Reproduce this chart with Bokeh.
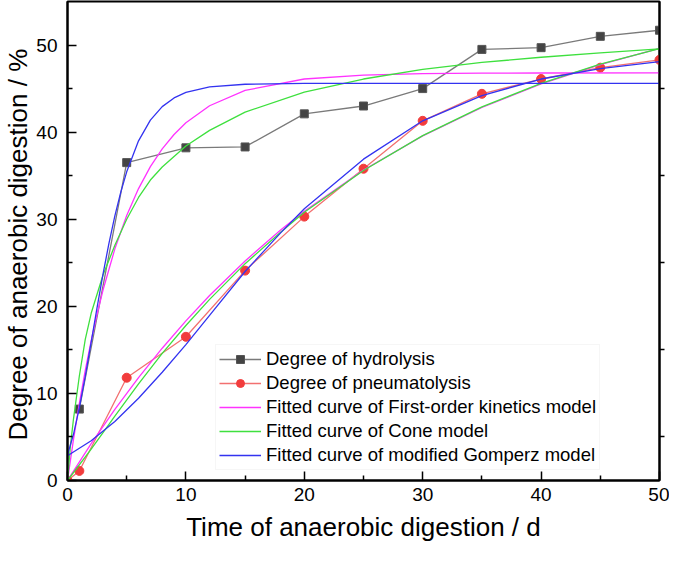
from bokeh.plotting import figure
from bokeh.models import Range1d, LinearAxis, FixedTicker, Legend, LegendItem
from bokeh.embed import file_html
from bokeh.resources import INLINE

# ---- measured data ----
days = [1, 5, 10, 15, 20, 25, 30, 35, 40, 45, 50]
hydrolysis = [8.2, 36.5, 38.2, 38.3, 42.1, 43.0, 45.0, 49.5, 49.7, 51.0, 51.7]
pneu_days = [0, 1, 5, 10, 15, 20, 25, 30, 35, 40, 45, 50]
pneumatolysis = [0.0, 1.1, 11.8, 16.5, 24.1, 30.3, 35.8, 41.3, 44.4, 46.1, 47.4, 48.3]

# ---- fitted curves ----
fo_h_t = [0, 0.5, 1, 1.5, 2, 2.5, 3, 4, 5, 6, 7, 8, 9, 10, 12, 15, 20, 25, 30, 35, 40, 50]
fo_h_y = [0, 4.67, 8.86, 12.65, 16.05, 19.11, 21.87, 26.60, 30.42, 33.52, 36.04, 38.08,
          39.73, 41.07, 43.03, 44.79, 46.10, 46.55, 46.71, 46.77, 46.79, 46.80]

cone_h_t = [0, 0.25, 0.5, 1, 1.5, 2, 3, 4, 5, 6, 7, 8, 10, 12, 15, 20, 25, 30, 35, 40, 45, 50]
cone_h_y = [0, 4.0, 7.0, 12.0, 16.2, 19.2, 23.6, 27.0, 30.0, 32.5, 34.5, 36.0, 38.4, 40.2,
            42.3, 44.6, 46.1, 47.2, 48.0, 48.6, 49.1, 49.55]

gom_h_t = [0, 0.5, 1, 1.5, 2, 2.5, 3, 3.5, 4, 4.5, 5, 6, 7, 8, 9, 10, 12, 15, 20, 30, 50]
gom_h_y = [2.95, 5.28, 8.34, 11.96, 15.89, 19.87, 23.70, 27.23, 30.38, 33.11, 35.44, 39.00,
           41.38, 42.93, 43.93, 44.56, 45.19, 45.50, 45.59, 45.60, 45.60]

fit_p_t = [0, 2, 4, 6, 8, 10, 12, 15, 18, 20, 25, 30, 35, 40, 45, 50]
fo_p_y = [0, 4.23, 8.16, 11.81, 15.19, 18.33, 21.24, 25.21, 28.76, 30.92, 35.65, 39.57,
          42.83, 45.53, 47.76, 49.61]
cone_p_y = [0, 3.6, 7.4, 11.1, 14.6, 17.8, 20.8, 24.9, 28.5, 30.8, 35.6, 39.6, 42.9, 45.6,
            47.8, 49.6]
gom_p_y = [2.85, 4.57, 6.78, 9.44, 12.43, 15.6, 18.97, 24.0, 28.43, 31.2, 36.9, 41.3, 44.2,
           46.1, 47.3, 48.1]

x_ticks = [0, 10, 20, 30, 40, 50]
x_minor = [5, 15, 25, 35, 45]
y_ticks = [0, 10, 20, 30, 40, 50]
y_minor = [5, 15, 25, 35, 45]

FONT = "Liberation Sans"
MAGENTA = "#ff33ff"
GREEN = "#3ee03e"
BLUE = "#3333f0"

p = figure(width=669, height=547, output_backend="svg", toolbar_location=None,
           x_range=Range1d(0, 50), y_range=Range1d(0, 55),
           min_border_left=62, min_border_right=10, min_border_top=1, min_border_bottom=67)
p.grid.visible = False
p.outline_line_color = "black"
p.outline_line_width = 2
p.background_fill_color = "white"

for ax, ticks, minor in ((p.xaxis[0], x_ticks, x_minor), (p.yaxis[0], y_ticks, y_minor)):
    ax.ticker = FixedTicker(ticks=ticks, minor_ticks=minor)
    ax.major_tick_out = 0
    ax.minor_tick_out = 0
    ax.major_tick_in = 9
    ax.minor_tick_in = 5
    ax.major_tick_line_width = 1.5
    ax.minor_tick_line_width = 1.5
    ax.axis_line_width = 2
    ax.major_label_text_font = FONT
    ax.major_label_text_font_size = "19px"
    ax.major_label_text_color = "black"
    ax.axis_label_text_font = FONT
    ax.axis_label_text_font_size = "26px"
    ax.axis_label_text_font_style = "normal"
    ax.axis_label_text_color = "black"

p.xaxis[0].axis_label = "Time of anaerobic digestion / d"
p.xaxis[0].major_label_standoff = 7
p.xaxis[0].axis_label_standoff = 8
p.yaxis[0].axis_label = "Degree of  anaerobic digestion / %"
p.yaxis[0].major_label_standoff = 10
p.yaxis[0].axis_label_standoff = 0

right = LinearAxis(ticker=FixedTicker(ticks=y_minor, minor_ticks=[]),
                   major_tick_in=0, major_tick_out=5, major_tick_line_width=1.5,
                   axis_line_width=2, major_label_text_font_size="1px",
                   major_label_text_color=None,
                   major_label_standoff=0, minor_tick_line_color=None)
p.add_layout(right, "right")

# data series
h_line = p.line(days, hydrolysis, line_color="#7a7a7a", line_width=1.3)
h_mark = p.scatter(days, hydrolysis, marker="square", size=8,
                   fill_color="#444444", line_color="#555555")
r_line = p.line(pneu_days, pneumatolysis, line_color="#f27070", line_width=1.3)
r_mark = p.scatter(pneu_days, pneumatolysis, marker="circle", size=9,
                   fill_color="#f23c3c", line_color="#f23c3c")

# fitted curves
fo1 = p.line(fo_h_t, fo_h_y, line_color=MAGENTA, line_width=1.3)
fo2 = p.line(fit_p_t, fo_p_y, line_color=MAGENTA, line_width=1.3)
c1 = p.line(cone_h_t, cone_h_y, line_color=GREEN, line_width=1.3)
c2 = p.line(fit_p_t, cone_p_y, line_color=GREEN, line_width=1.3)
g1 = p.line(gom_h_t, gom_h_y, line_color=BLUE, line_width=1.3)
g2 = p.line(fit_p_t, gom_p_y, line_color=BLUE, line_width=1.3)

legend = Legend(items=[
    LegendItem(label="Degree of hydrolysis", renderers=[h_line, h_mark]),
    LegendItem(label="Degree of pneumatolysis", renderers=[r_line, r_mark]),
    LegendItem(label="Fitted curve of First-order kinetics model", renderers=[fo1]),
    LegendItem(label="Fitted curve of Cone model", renderers=[c1]),
    LegendItem(label="Fitted curve of modified Gomperz model", renderers=[g1]),
], location=(148, 10))
legend.label_text_font = FONT
legend.label_text_font_size = "18.5px"
legend.label_text_color = "black"
legend.glyph_width = 42
legend.glyph_height = 20
legend.label_height = 20
legend.label_standoff = 5
legend.spacing = 2
legend.padding = 3
legend.margin = 0
legend.border_line_color = "#eeeeee"
legend.background_fill_color = "white"
legend.background_fill_alpha = 1.0
p.add_layout(legend, "center")

open("out.html", "w").write(file_html(p, INLINE))
